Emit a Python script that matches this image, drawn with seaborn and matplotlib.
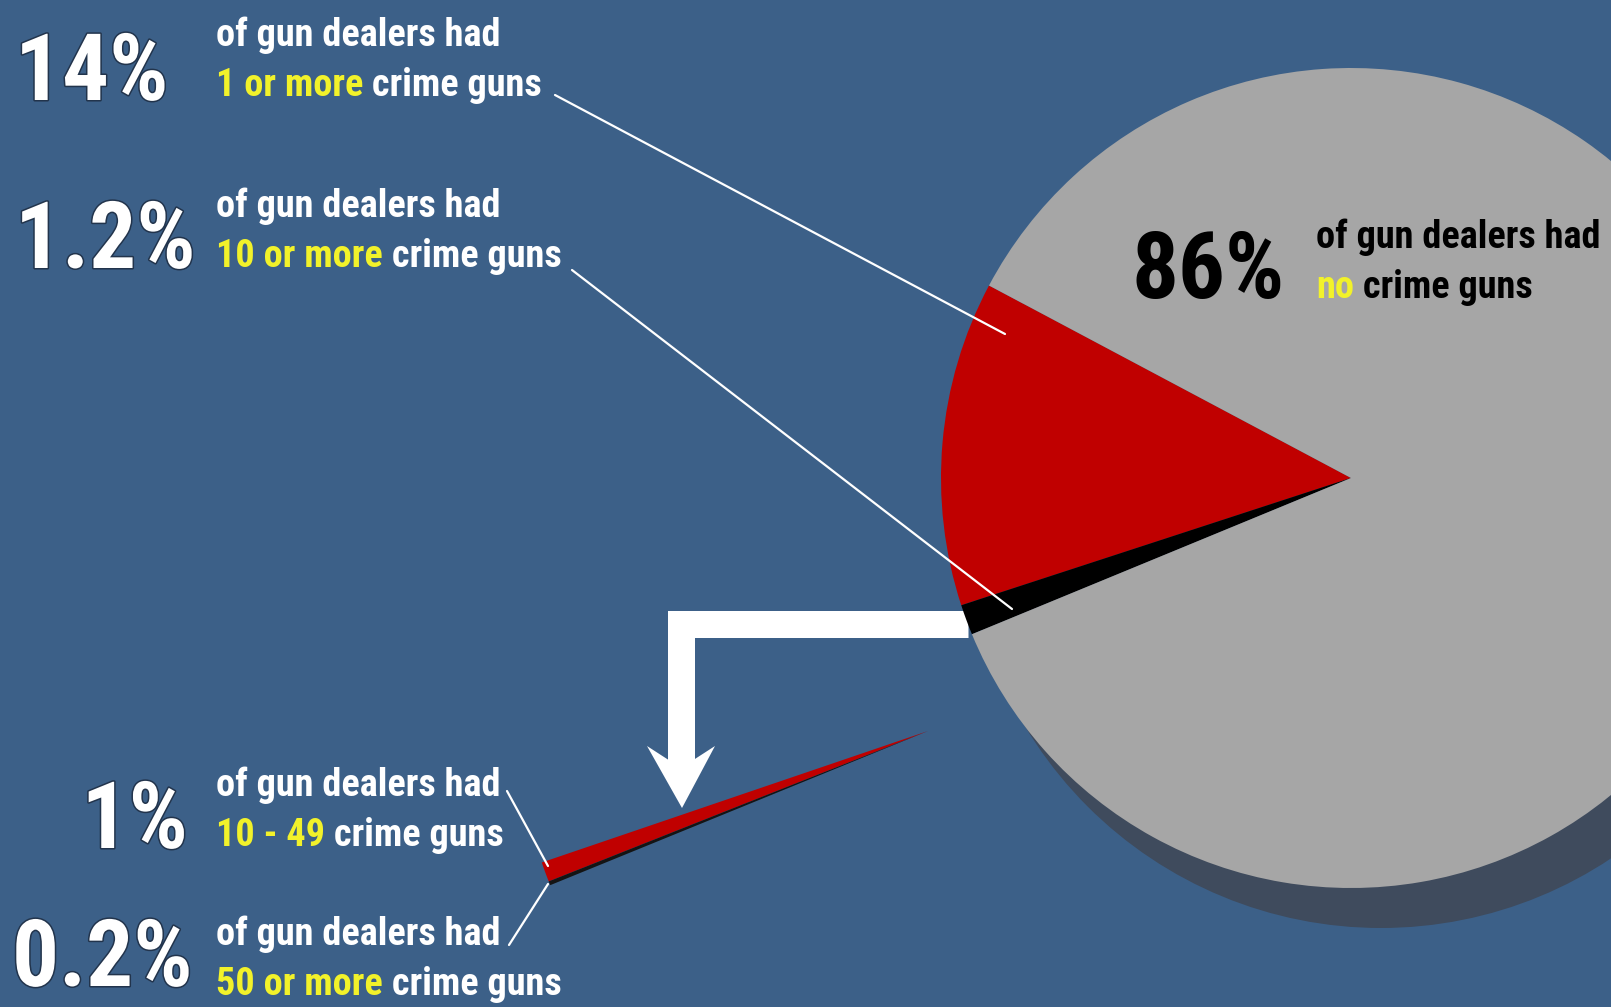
import matplotlib
matplotlib.use("Agg")
import matplotlib.pyplot as plt
import matplotlib.patheffects as pe
from matplotlib import font_manager
from matplotlib.patches import Circle
import numpy as np
import seaborn as sns

# --- data -----------------------------------------------------------------
slice_names = ["1 - 9 crime guns", "10 or more crime guns", "no crime guns"]
slice_values = [12.8, 1.2, 86.0]          # percent of gun dealers
zoom_names = ["10 - 49 crime guns", "50 or more crime guns"]
zoom_values = [1.0, 0.2]                  # split of the 1.2% slice

pct_labels = ["14%", "1.2%", "86%", "1%", "0.2%"]
highlights = ["1 or more", "10 or more", "no", "10 - 49", "50 or more"]
first_line = "of gun dealers had"
rest_line = " crime guns"

# --- style ----------------------------------------------------------------
BG = "#3c6088"
GREY = "#a6a6a6"
RED = "#c00000"
SHADOW = "#3f4b5d"
YELLOW = "#f2f22a"
W, H = 1611, 1007
LABEL_SIZE = 27.5

sns.set_theme(style="white")
available = {f.name for f in font_manager.fontManager.ttflist}
family = next((f for f in ["Liberation Sans Narrow", "Roboto Condensed",
                           "Liberation Sans", "DejaVu Sans"] if f in available))
plt.rcParams["font.family"] = [family, "DejaVu Sans"]

fig = plt.figure(figsize=(W / 100, H / 100), dpi=100)
fig.patch.set_facecolor(BG)
ax = fig.add_axes([0, 0, 1, 1])
ax.set_facecolor(BG)

# main pie with drop shadow
cx, cy, R = 1351, H - 478, 410
ax.add_patch(Circle((cx + 30, cy - 35), R + 5, color=SHADOW, lw=0, zorder=1))
ax.pie(slice_values, colors=[RED, "black", GREY], startangle=152,
       counterclock=True, center=(cx, cy), radius=R,
       wedgeprops=dict(linewidth=0, zorder=2))

# pulled-out sliver showing the split of the 1.2% slice
ZOOM_SPAN = 3.4  # degrees the sliver occupies
zoom_frac = np.array(zoom_values) / sum(zoom_values) * ZOOM_SPAN / 360
zx, zy = 928, H - 731
ax.pie(zoom_frac, normalize=False, colors=[RED, "#141414"], startangle=198.8,
       counterclock=True, center=(zx, zy), radius=R - 2,
       wedgeprops=dict(linewidth=0, zorder=3))

# white elbow arrow from the slice down to the sliver
ax.plot([968, 681, 681], [H - 624, H - 624, H - 776], color="white",
        lw=27 * 0.72, solid_joinstyle="miter", solid_capstyle="butt", zorder=1.5)
ax.fill([682, 647, 681, 715], [H - 808, H - 746, H - 768, H - 746],
        color="white", lw=0, zorder=1.5)

# leader lines
leaders = [((555, 95), (1005, 334)), ((572, 270), (1012, 609)),
           ((507, 791), (548, 866)), ((509, 945), (548, 884))]
for (x0, y0), (x1, y1) in leaders:
    ax.plot([x0, x1], [H - y0, H - y1], color="white", lw=1.6,
            solid_capstyle="round", zorder=4)

outline = [pe.withStroke(linewidth=2.2, foreground="#22344c")]


def callout(pct, pct_x, pct_base, text_x, base1, highlight, dark=False, ha="left"):
    main = "black" if dark else "white"
    effects = None if dark else outline
    ax.text(pct_x, H - pct_base, pct, fontsize=67, fontweight="bold", color=main,
            ha=ha, va="baseline", path_effects=effects, zorder=5)
    ax.text(text_x, H - base1, first_line, fontsize=LABEL_SIZE, fontweight="bold",
            color=main, ha="left", va="baseline", zorder=5)
    t = ax.text(text_x, H - base1 - 50, highlight, fontsize=LABEL_SIZE,
                fontweight="bold", color=YELLOW, ha="left", va="baseline", zorder=5)
    ax.annotate(rest_line, xy=(1, 0), xycoords=t, fontsize=LABEL_SIZE,
                fontweight="bold", color=main, ha="left", va="bottom", zorder=5)


callout(pct_labels[0], 15, 100, 216, 46, highlights[0])
callout(pct_labels[1], 15, 268, 216, 217, highlights[1])
callout(pct_labels[2], 1131, 298, 1316, 248, highlights[2], dark=True)
callout(pct_labels[3], 188, 848, 216, 796, highlights[3], ha="right")
callout(pct_labels[4], 12, 986, 216, 945, highlights[4])

ax.set_xlim(0, W)
ax.set_ylim(0, H)
ax.set_aspect("equal")
ax.axis("off")

fig.savefig("out.png", dpi=100, facecolor=BG)
